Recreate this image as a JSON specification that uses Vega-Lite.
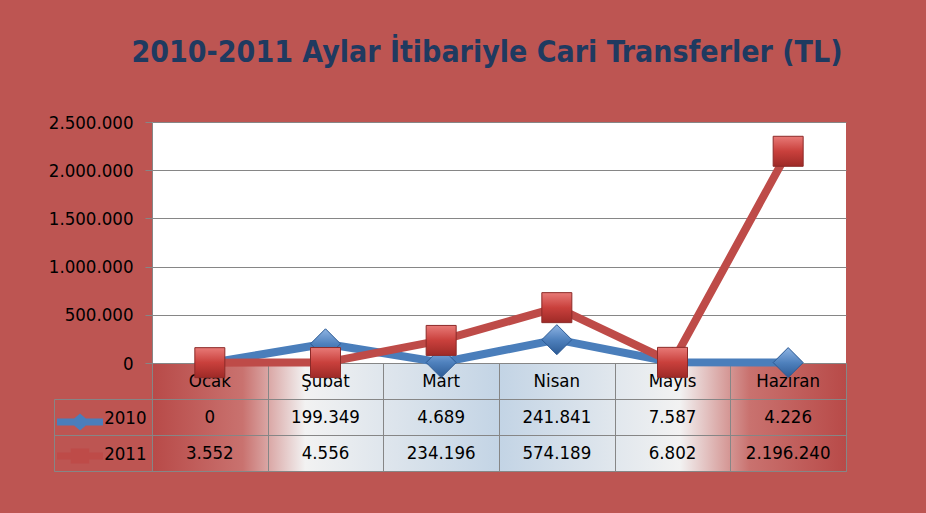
{
  "$schema": "https://vega.github.io/schema/vega-lite/v6.json",
  "background": "#bd5552",
  "padding": {"left": 48, "top": 38, "right": 80, "bottom": 50},
  "autosize": {"type": "pad"},
  "config": {
    "locale": {"number": {"decimal": ",", "thousands": ".", "grouping": [3], "currency": ["", ""]}},
    "font": "Liberation Sans Narrow, DejaVu Sans Condensed, Liberation Sans, sans-serif"
  },
  "datasets": {
    "veri": [
      {"ay": "Ocak", "seri": "2010", "deger": 0},
      {"ay": "Şubat", "seri": "2010", "deger": 199349},
      {"ay": "Mart", "seri": "2010", "deger": 4689},
      {"ay": "Nisan", "seri": "2010", "deger": 241841},
      {"ay": "Mayıs", "seri": "2010", "deger": 7587},
      {"ay": "Haziran", "seri": "2010", "deger": 4226},
      {"ay": "Ocak", "seri": "2011", "deger": 3552},
      {"ay": "Şubat", "seri": "2011", "deger": 4556},
      {"ay": "Mart", "seri": "2011", "deger": 234196},
      {"ay": "Nisan", "seri": "2011", "deger": 574189},
      {"ay": "Mayıs", "seri": "2011", "deger": 6802},
      {"ay": "Haziran", "seri": "2011", "deger": 2196240}
    ]
  },
  "bounds": "flush",
  "spacing": 0,
  "resolve": {"legend": {"color": "independent", "shape": "independent"}},
  "vconcat": [
    {
      "width": 694,
      "height": 241,
      "title": {
        "text": "2010-2011 Aylar İtibariyle Cari Transferler (TL)",
        "fontSize": 30,
        "fontWeight": "bold",
        "color": "#1f3a60",
        "anchor": "middle",
        "frame": "group",
        "baseline": "alphabetic",
        "offset": 21,
        "dx": -12
      },
      "view": {"fill": "white", "stroke": null},
      "data": {"name": "veri"},
      "transform": [{"filter": "datum.seri === '2010'"}],
      "mark": {"type": "point", "size": 2116, "filled": true, "opacity": 0},
      "encoding": {
        "x": {
          "field": "ay", "type": "nominal",
          "sort": ["Ocak", "Şubat", "Mart", "Nisan", "Mayıs", "Haziran"],
          "scale": {"domain": ["Ocak", "Şubat", "Mart", "Nisan", "Mayıs", "Haziran"], "paddingInner": 0, "paddingOuter": 0},
          "axis": null
        },
        "y": {
          "field": "deger", "type": "quantitative",
          "scale": {"domain": [0, 2500000], "nice": false},
          "axis": {
            "values": [0, 500000, 1000000, 1500000, 2000000, 2500000],
            "format": ",d",
            "labelFontSize": 18.5,
            "labelColor": "#000000",
            "labelPadding": 12,
            "tickSize": 7,
            "tickColor": "#868686",
            "domainColor": "#868686",
            "gridColor": "#868686",
            "gridOpacity": 1,
            "title": null
          }
        },
        "color": {
          "field": "seri", "type": "nominal",
          "scale": {"domain": ["2010", "2011"], "range": ["#4a7ebb", "#be4b48"]},
          "legend": {
            "orient": "none", "legendX": -95, "legendY": 277, "title": null, "padding": 0,
            "labelExpr": "''", "symbolSize": 2116, "symbolOpacity": 1, "symbolStrokeWidth": 0, "rowPadding": 2
          }
        },
        "shape": {
          "field": "seri", "type": "nominal",
          "scale": {"domain": ["2010", "2011"], "range": [
            "M-1,-0.15L1,-0.15L1,0.15L-1,0.15Z M-0.43,0L0,-0.37L0.43,0L0,0.37Z",
            "M-1,-0.15L1,-0.15L1,0.15L-1,0.15Z M-0.4,-0.33L0.4,-0.33L0.4,0.33L-0.4,0.33Z"
          ]},
          "legend": {
            "orient": "none", "legendX": -95, "legendY": 277, "title": null, "padding": 0,
            "labelExpr": "''", "symbolSize": 2116, "symbolOpacity": 1, "symbolStrokeWidth": 0, "rowPadding": 2
          }
        }
      }
    },
    {
      "width": 694,
      "height": 108,
      "view": {
        "stroke": "#868686",
        "fill": {"gradient": "linear", "x1": 0, "y1": 0, "x2": 1, "y2": 0,
          "stops": [
            {"offset": 0, "color": "#b84a48"},
            {"offset": 0.13, "color": "#c9726f"},
            {"offset": 0.22, "color": "#f2f2f2"},
            {"offset": 0.5, "color": "#c3d4e5"},
            {"offset": 0.76, "color": "#f2f2f2"},
            {"offset": 0.86, "color": "#c9726f"},
            {"offset": 1, "color": "#b84a48"}
          ]}
      },
      "data": {"name": "veri"},
      "resolve": {"scale": {"y": "independent"}, "axis": {"y": "independent"}},
      "encoding": {
        "x": {
          "field": "ay", "type": "nominal",
          "sort": ["Ocak", "Şubat", "Mart", "Nisan", "Mayıs", "Haziran"],
          "scale": {"domain": ["Ocak", "Şubat", "Mart", "Nisan", "Mayıs", "Haziran"], "paddingInner": 0, "paddingOuter": 0},
          "axis": {"orient": "bottom", "tickBand": "extent", "grid": true, "gridColor": "#868686", "gridOpacity": 1, "labels": false, "ticks": false, "domain": false, "title": null}
        }
      },
      "layer": [
        {
          "layer": [
            {
              "transform": [{"filter": "datum.seri === '2010'"}],
              "mark": {"type": "text", "fontSize": 18.5, "color": "#000000", "baseline": "middle"},
              "encoding": {
                "y": {"datum": "Ay", "type": "nominal"},
                "text": {"field": "ay", "type": "nominal"}
              }
            },
            {
              "mark": {"type": "text", "fontSize": 18.5, "color": "#000000", "baseline": "middle"},
              "encoding": {
                "text": {"field": "deger", "type": "quantitative", "format": ",d"}
              }
            }
          ],
          "encoding": {
            "y": {
              "field": "seri", "type": "nominal",
              "scale": {"domain": ["Ay", "2010", "2011"], "paddingInner": 0, "paddingOuter": 0},
              "axis": {
                "orient": "left", "offset": 98, "tickSize": -98, "tickOffset": 18,
                "grid": true, "gridColor": "#868686", "gridOpacity": 1,
                "tickColor": "#868686", "domainColor": "#868686", "domainDash": [0, 36, 72, 0],
                "labelExpr": "datum.value === 'Ay' ? '' : datum.value",
                "labelOffset": -18, "labelPadding": 6, "labelFontSize": 18.5, "labelColor": "#000000",
                "labelAlign": "right", "labelBaseline": "middle", "title": null
              }
            }
          }
        },
        {
          "encoding": {
            "y": {
              "field": "deger", "type": "quantitative",
              "scale": {"domain": [0, 2500000], "range": [0, -241], "nice": false, "zero": true},
              "axis": null
            }
          },
          "layer": [
            {
              "transform": [{"filter": "datum.seri === '2010'"}],
              "mark": {"type": "line", "strokeWidth": 8, "strokeJoin": "round", "color": "#4a7ebb"}
            },
            {
              "transform": [{"filter": "datum.seri === '2010'"}],
              "mark": {
                "type": "point", "shape": "diamond", "size": 900, "filled": true, "opacity": 1,
                "color": {"gradient": "linear", "x1": 0, "y1": 0, "x2": 0, "y2": 1,
                  "stops": [{"offset": 0, "color": "#8fb4e3"}, {"offset": 0.5, "color": "#4f81bd"}, {"offset": 1, "color": "#2c5a94"}]},
                "stroke": "#2c5a94", "strokeWidth": 1
              }
            },
            {
              "transform": [{"filter": "datum.seri === '2011'"}],
              "mark": {"type": "line", "strokeWidth": 8, "strokeJoin": "round", "color": "#be4b48"}
            },
            {
              "transform": [{"filter": "datum.seri === '2011'"}],
              "mark": {
                "type": "point", "shape": "square", "size": 900, "filled": true, "opacity": 1,
                "color": {"gradient": "linear", "x1": 0, "y1": 0, "x2": 0, "y2": 1,
                  "stops": [{"offset": 0, "color": "#e87a77"}, {"offset": 0.5, "color": "#c9403c"}, {"offset": 1, "color": "#9e2a27"}]},
                "stroke": "#8c2a28", "strokeWidth": 1
              }
            }
          ]
        }
      ]
    }
  ]
}
